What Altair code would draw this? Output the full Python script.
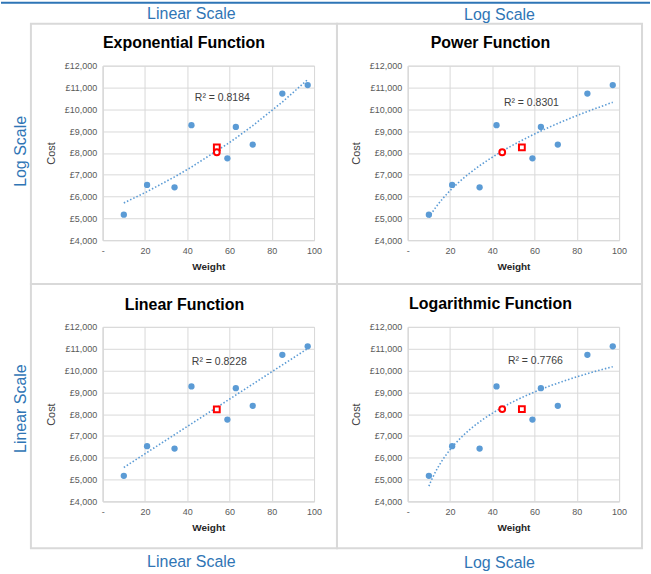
import altair as alt
import pandas as pd

# ---------------- data ----------------
weight = [10, 21, 34, 42, 59, 63, 71, 85, 97]
cost = [5170, 6530, 6420, 9270, 7750, 9190, 8380, 10720, 11110]

panel_titles = ["Exponential Function", "Power Function", "Linear Function", "Logarithmic Function"]
methods = ["exp", "pow", "linear", "log"]
r2_labels = ["R² = 0.8184", "R² = 0.8301", "R² = 0.8228", "R² = 0.7766"]

square_weight = [54, 54, 54, 54]
square_cost = [8250, 8250, 8220, 8230]
circle_weight = [54, 44.7, None, 44.7]
circle_cost = [8030, 8030, None, 8230]

x_ticks = [0, 20, 40, 60, 80, 100]
y_ticks = [4000, 5000, 6000, 7000, 8000, 9000, 10000, 11000, 12000]

top_labels = ["Linear Scale", "Log Scale"]
bottom_labels = ["Linear Scale", "Log Scale"]
side_labels = ["Log Scale", "Linear Scale"]

# ---------------- style ----------------
FONT = "Liberation Sans"
BLUE = "#5B9BD5"
LABEL_BLUE = "#2F75B5"
GRID = "#D9D9D9"
W, H = 212, 175

df = pd.DataFrame({"weight": weight, "cost": cost})


def one(text):
    return pd.DataFrame({"label": [text]})


def panel(i):
    x_scale = alt.Scale(domain=[0, 100], nice=False)
    y_scale = alt.Scale(domain=[4000, 12000], nice=False, zero=False)
    x_axis = alt.Axis(
        values=x_ticks, labelExpr="datum.value == 0 ? '-' : datum.label",
        title="Weight", titleFontWeight="bold", titleFontSize=10, titleColor="#262626",
        titleFont=FONT, labelFont=FONT, labelFontSize=9, labelColor="#595959",
        ticks=False, labelPadding=6, titlePadding=6, domainColor=GRID,
        gridColor=GRID, labelFlush=False,
    )
    y_axis = alt.Axis(
        values=y_ticks, labelExpr="'£' + format(datum.value, ',')",
        title="Cost", titleFontWeight="normal", titleFontSize=11, titleColor="#404040",
        titleFont=FONT, labelFont=FONT, labelFontSize=9, labelColor="#595959",
        ticks=False, labelPadding=6, titlePadding=8, domainColor=GRID,
        gridColor=GRID,
    )
    x = alt.X("weight:Q", scale=x_scale, axis=x_axis)
    y = alt.Y("cost:Q", scale=y_scale, axis=y_axis)
    layers = []
    layers.append(alt.Chart(df).mark_circle(size=40, color=BLUE, opacity=1).encode(x=x, y=y))
    line_style = dict(color=BLUE, strokeDash=[1.5, 2], strokeWidth=1.6)
    if methods[i] == "exp":
        # Excel-style exponential trendline: least squares of ln(cost) on weight
        trend = (
            alt.Chart(df)
            .transform_calculate(lc="log(datum.cost)")
            .transform_joinaggregate(mx="mean(weight)", my="mean(lc)")
            .transform_calculate(
                sxy="(datum.weight - datum.mx) * (datum.lc - datum.my)",
                sxx="(datum.weight - datum.mx) * (datum.weight - datum.mx)",
            )
            .transform_joinaggregate(Sxy="sum(sxy)", Sxx="sum(sxx)")
            .transform_calculate(fit="exp(datum.my + datum.Sxy / datum.Sxx * (datum.weight - datum.mx))")
            .mark_line(**line_style)
            .encode(x=x, y=alt.Y("fit:Q", scale=y_scale, axis=y_axis))
        )
    else:
        trend = (
            alt.Chart(df)
            .transform_regression("weight", "cost", method=methods[i])
            .mark_line(**line_style)
            .encode(x=x, y=y)
        )
    layers.append(trend)
    sq = pd.DataFrame({"weight": [square_weight[i]], "cost": [square_cost[i]]})
    layers.append(
        alt.Chart(sq).mark_point(shape="square", filled=True, fill="white", stroke="#FF0000",
                                 strokeWidth=2, size=34, opacity=1).encode(x=x, y=y)
    )
    if circle_weight[i] is not None:
        ci = pd.DataFrame({"weight": [circle_weight[i]], "cost": [circle_cost[i]]})
        layers.append(
            alt.Chart(ci).mark_point(shape="circle", filled=True, fill="white", stroke="#FF0000",
                                     strokeWidth=2, size=34, opacity=1).encode(x=x, y=y)
        )
    return layers


# pixel offsets (relative to each plot area's top-left)
cfg = [
    dict(border=(-72, 235, -42, 219), title=(81.5, -23), r2=(120, 32),
         outer=("top", 0, 89, -52), side=(-82, 86, 0)),
    dict(border=(-71, 235, -42, 219), title=(83, -23), r2=(124, 37),
         outer=("top", 1, 92, -51), side=None),
    dict(border=(-72, 235, -43, 222), title=(82, -22), r2=(117, 35),
         outer=("bottom", 0, 89, 236), side=(-82, 82, 1)),
    dict(border=(-71, 235, -43, 222), title=(83, -23), r2=(128, 34),
         outer=("bottom", 1, 92, 237), side=None),
]

panels = []
for i in range(4):
    c = cfg[i]
    deco = []
    bx1, bx2, by1, by2 = c["border"]
    deco.append(
        alt.Chart(one("")).mark_rect(fillOpacity=0, stroke=GRID, strokeWidth=2).encode(
            x=alt.value(bx1), x2=alt.value(bx2), y=alt.value(by1), y2=alt.value(by2)
        )
    )
    if i == 0:
        deco.append(
            alt.Chart(one("")).mark_rect(color="#2E75B6").encode(
                x=alt.value(-102), x2=alt.value(549), y=alt.value(-64), y2=alt.value(-62)
            )
        )
    tx, ty = c["title"]
    deco.append(
        alt.Chart(one(panel_titles[i])).mark_text(
            font=FONT, fontSize=16, fontWeight="bold", color="#000000", baseline="middle"
        ).encode(x=alt.value(tx), y=alt.value(ty), text="label:N")
    )
    rx, ry = c["r2"]
    deco.append(
        alt.Chart(one(r2_labels[i])).mark_text(
            font=FONT, fontSize=10.5, color="#404040", baseline="middle"
        ).encode(x=alt.value(rx), y=alt.value(ry), text="label:N")
    )
    where, k, ox, oy = c["outer"]
    txt = top_labels[k] if where == "top" else bottom_labels[k]
    deco.append(
        alt.Chart(one(txt)).mark_text(
            font=FONT, fontSize=16, color=LABEL_BLUE, baseline="middle"
        ).encode(x=alt.value(ox), y=alt.value(oy), text="label:N")
    )
    if c["side"] is not None:
        sx, sy, sk = c["side"]
        deco.append(
            alt.Chart(one(side_labels[sk])).mark_text(
                font=FONT, fontSize=16, color=LABEL_BLUE, baseline="middle", angle=270
            ).encode(x=alt.value(sx), y=alt.value(sy), text="label:N")
        )
    layered = alt.layer(*deco, *panel(i)).properties(width=W, height=H)
    panels.append(layered)

chart = (
    alt.concat(*panels, columns=2, spacing=alt.RowColnumber(row=87, column=94), bounds="flush")
    .properties(padding=0, background="white")
    .configure_view(stroke=GRID, strokeWidth=1)
)

chart.save("out.html", embed_options={"renderer": "svg", "actions": False})
